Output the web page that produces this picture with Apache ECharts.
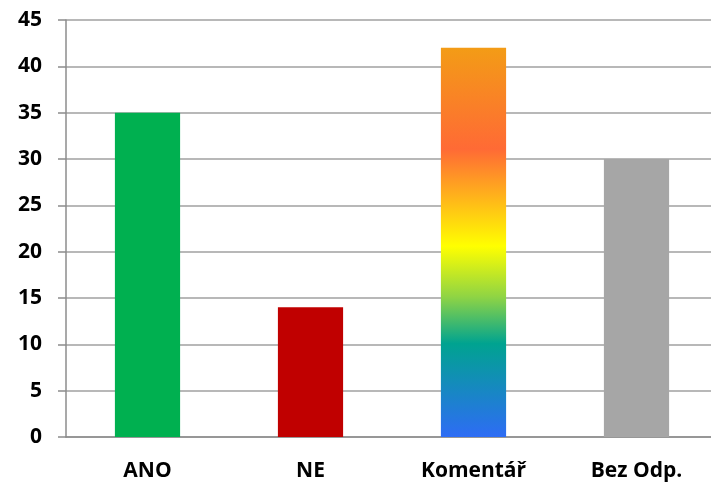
<!DOCTYPE html>
<html><head><meta charset="utf-8">
<script src="https://cdn.jsdelivr.net/npm/echarts@6/dist/echarts.min.js"></script>
<style>html,body{margin:0;padding:0;background:#fff}#c{width:711px;height:482px}</style>
</head><body><div id="c"></div>
<script>
const categories = ['ANO', 'NE', 'Komentář', 'Bez Odp.'];
const values = [35, 14, 42, 30];
const yTicks = [0, 5, 10, 15, 20, 25, 30, 35, 40, 45];

const gradient = new echarts.graphic.LinearGradient(0, 0, 0, 1, [
  {offset: 0, color: '#F39C16'},
  {offset: 0.26, color: '#FF6A35'},
  {offset: 0.51, color: '#FFFF00'},
  {offset: 0.64, color: '#8FD444'},
  {offset: 0.76, color: '#00A390'},
  {offset: 1, color: '#2E6CF5'}
]);
const colors = ['#00B050', '#C00000', gradient, '#A6A6A6'];

const chart = echarts.init(document.getElementById('c'));
chart.setOption({
  animation: false,
  grid: {left: 66, top: 20, width: 652, bottom: 45, outerBoundsMode: 'none', containLabel: false},
  xAxis: {
    type: 'category',
    data: categories,
    axisLine: {lineStyle: {color: '#8C8C8C', width: 1.5}},
    axisTick: {length: 6, lineStyle: {color: '#8C8C8C', width: 1.5}},
    axisLabel: {margin: 24, fontSize: 21, fontWeight: 'bold', color: '#000', fontFamily: 'Open Sans'}
  },
  yAxis: {
    type: 'value',
    min: yTicks[0], max: yTicks[yTicks.length - 1], interval: 5,
    axisLine: {show: true, lineStyle: {color: '#8C8C8C', width: 1.5}},
    axisTick: {show: true, length: 8, lineStyle: {color: '#8C8C8C', width: 1.5}},
    splitLine: {lineStyle: {color: '#A0A0A0', width: 1.5}},
    axisLabel: {margin: 24, fontSize: 21, fontWeight: 'bold', color: '#000', fontFamily: 'Open Sans'}
  },
  series: [{
    type: 'bar',
    barWidth: '40%',
    data: values.map((v, i) => ({value: v, itemStyle: {color: colors[i]}}))
  }]
});
</script></body></html>
